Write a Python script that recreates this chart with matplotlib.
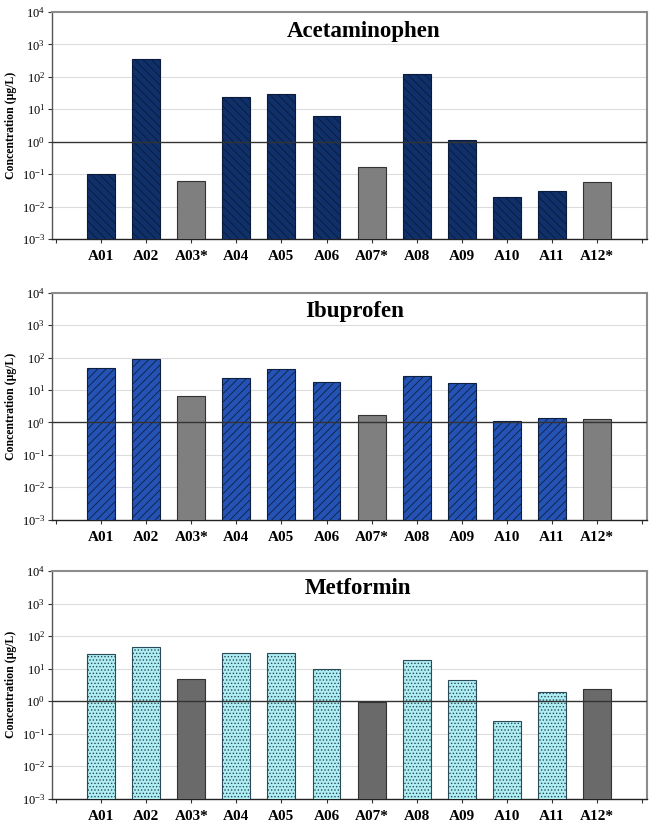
import matplotlib
matplotlib.use("Agg")
import matplotlib.pyplot as plt
import numpy as np
from matplotlib.ticker import LogFormatterMathtext, NullLocator, FixedLocator

plt.rcParams['font.family'] = ['Liberation Serif', 'DejaVu Serif']
plt.rcParams['mathtext.fontset'] = 'stix'
plt.rcParams['hatch.linewidth'] = 0.6

sites = ["A01", "A02", "A03*", "A04", "A05", "A06", "A07*", "A08", "A09", "A10", "A11", "A12*"]
gray_sites = ["A03*", "A07*", "A12*"]

acetaminophen = [0.10, 350, 0.063, 24.5, 29, 6.3, 0.17, 126, 1.1, 0.020, 0.030, 0.057]
ibuprofen = [46, 89, 6.4, 24, 45, 17.6, 1.7, 27, 16.6, 1.07, 1.39, 1.3]
metformin = [27, 46, 4.7, 29, 29.5, 10, 0.95, 18.4, 4.4, 0.25, 1.84, 2.3]
y_ticks = [1e-3, 1e-2, 1e-1, 1e0, 1e1, 1e2, 1e3, 1e4]

panels = [
    ("Acetaminophen", acetaminophen, "#10306a", "#0a1a3a", "\\\\\\\\", "#7f7f7f", (0.523, 0.912)),
    ("Ibuprofen", ibuprofen, "#2453b5", "#0f1f40", "////", "#7f7f7f", (0.509, 0.918)),
    ("Metformin", metformin, "#aeeef2", "#2a4a5a", ".....", "#6a6a6a", (0.514, 0.922)),
]

W, H = 669, 831
fig = plt.figure(figsize=(W / 100, H / 100), dpi=100)

axes_px = [(12, 239), (292.7, 519.7), (571, 798.5)]
left_px, right_px = 52, 647

x = np.arange(len(sites))
for (name, vals, color, ecol, hatch, gcol, tpos), (top, bot) in zip(panels, axes_px):
    ax = fig.add_axes([left_px / W, 1 - bot / H, (right_px - left_px) / W, (bot - top) / H])
    ax.set_yscale('log')
    ax.set_ylim(1e-3, 1e4)
    ax.set_xlim(-1.09, 12.11)
    for xi, s, v in zip(x, sites, vals):
        if s in gray_sites:
            ax.bar(xi, v, width=0.62, color=gcol, edgecolor='#333333', linewidth=0.8, zorder=3)
        else:
            ax.bar(xi, v, width=0.62, color=color, edgecolor=ecol, linewidth=0.8,
                   hatch=hatch, zorder=3)
    # gridlines
    for t in y_ticks[1:-1]:
        if t == 1.0:
            ax.axhline(t, color='#333333', linewidth=1.0, zorder=4)
        else:
            ax.axhline(t, color='#dcdcdc', linewidth=0.8, zorder=1)
    ax.yaxis.set_major_locator(FixedLocator(y_ticks))
    ax.yaxis.set_major_formatter(LogFormatterMathtext())
    ax.yaxis.set_minor_locator(NullLocator())
    ax.tick_params(axis='y', direction='out', length=3, width=0.8, labelsize=9, pad=2,
                   color='#333333')
    ax.set_xticks(x)
    ax.set_xticklabels(sites, fontweight='bold', fontsize=11)
    ax.xaxis.set_minor_locator(FixedLocator([-1, 12]))
    ax.tick_params(axis='x', which='both', direction='out', length=3, width=0.8, pad=5,
                   color='#333333')
    ax.spines['top'].set_color('#8c8c8c')
    ax.spines['top'].set_linewidth(1.5)
    ax.spines['right'].set_color('#8c8c8c')
    ax.spines['right'].set_linewidth(1.5)
    ax.spines['left'].set_color('#555555')
    ax.spines['left'].set_linewidth(1.0)
    ax.spines['bottom'].set_color('#222222')
    ax.spines['bottom'].set_linewidth(1.0)
    ax.set_ylabel("Concentration (μg/L)", fontweight='bold', fontsize=8.5, labelpad=3)
    ax.text(tpos[0], tpos[1], name, transform=ax.transAxes, ha='center', va='center',
            fontsize=16.5, fontweight='bold')

fig.savefig("out.png", dpi=100)
